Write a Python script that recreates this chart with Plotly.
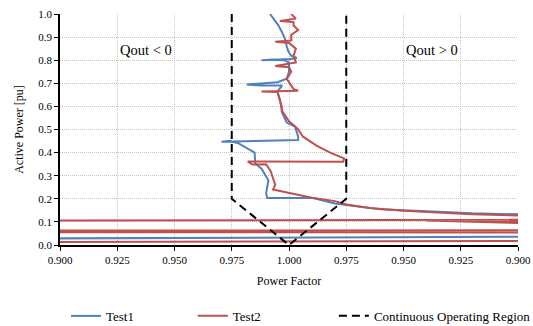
import plotly.graph_objects as go

# x values: signed power-factor offset (negative = Qout<0 side, positive = Qout>0 side)
test1_x = [-0.0083, -0.0065, -0.0047, -0.003, -0.0018, -0.001, -0.0003, 0.001, 0.0034, 0.0005,
           -0.012, -0.008, -0.002, 0.0, 0.0, -0.001, -0.005, -0.0185, -0.012, -0.003,
           -0.005, -0.0047, -0.0032, -0.0032, -0.001, 0.0026, 0.004, 0.004, -0.0295, -0.026,
           -0.022, -0.015, -0.0148, -0.012, -0.009, -0.010, -0.0095, 0.0105, 0.02, 0.040,
           0.08, 0.13, 0.15, 0.15, -0.15]
test1_p = [1.0, 0.975, 0.952, 0.92, 0.894, 0.86, 0.837, 0.82, 0.81, 0.805,
           0.80, 0.802, 0.80, 0.79, 0.75, 0.72, 0.705, 0.695, 0.69, 0.69,
           0.665, 0.65, 0.60, 0.577, 0.53, 0.512, 0.47, 0.455, 0.447, 0.45,
           0.44, 0.40, 0.354, 0.33, 0.28, 0.224, 0.203, 0.203, 0.18, 0.155,
           0.137, 0.126, 0.122, 0.037, 0.027]

test2_x = [0.001, 0.003, -0.004, 0.002, 0.002, 0.004, 0.001, 0.001, -0.006, 0.0,
           0.003, 0.002, 0.003, -0.006, 0.0, 0.001, -0.001, 0.001, 0.002, 0.004,
           -0.012, -0.005, -0.004, -0.003, 0.0, 0.002, 0.004, 0.006, 0.012, 0.018,
           0.024, 0.0237, -0.018, -0.016, -0.010, -0.008, -0.007, -0.006, -0.007, 0.0,
           0.01, 0.02, 0.025, 0.035, 0.05, 0.08, 0.12, 0.15, 0.15, 0.06,
           0.10, 0.15, 0.15, -0.15, -0.15, 0.15, 0.15, -0.15, -0.15, 0.15]
test2_p = [1.0, 0.98, 0.97, 0.965, 0.95, 0.93, 0.91, 0.885, 0.88, 0.875,
           0.85, 0.82, 0.79, 0.775, 0.77, 0.75, 0.72, 0.69, 0.675, 0.668,
           0.665, 0.662, 0.63, 0.58, 0.535, 0.52, 0.50, 0.47, 0.43, 0.40,
           0.375, 0.36, 0.362, 0.348, 0.35, 0.32, 0.29, 0.26, 0.24, 0.225,
           0.205, 0.19, 0.175, 0.16, 0.148, 0.133, 0.12, 0.113, 0.10, 0.106,
           0.095, 0.09, 0.11, 0.105, 0.062, 0.064, 0.054, 0.056, 0.012, 0.018]

region_x = [-0.025, -0.025, 0.0, 0.025, 0.025]
region_p = [1.0, 0.2, 0.0, 0.2, 1.0]

x_tick_vals = [-0.1, -0.075, -0.05, -0.025, 0.0, 0.025, 0.05, 0.075, 0.1]
x_tick_text = ["0.900", "0.925", "0.950", "0.975", "1.000", "0.975", "0.950", "0.925", "0.900"]
y_tick_vals = [0.0, 0.1, 0.2, 0.3, 0.4, 0.5, 0.6, 0.7, 0.8, 0.9, 1.0]
y_tick_text = ["0.0", "0.1", "0.2", "0.3", "0.4", "0.5", "0.6", "0.7", "0.8", "0.9", "1.0"]

FONT = "Times New Roman, Liberation Serif, serif"

fig = go.Figure()
fig.add_trace(go.Scatter(x=test1_x, y=test1_p, mode="lines", name="Test1",
                         line=dict(color="#4F81BD", width=2), legend="legend"))
fig.add_trace(go.Scatter(x=test2_x, y=test2_p, mode="lines", name="Test2",
                         line=dict(color="#C0504D", width=2), legend="legend2"))
fig.add_trace(go.Scatter(x=region_x, y=region_p, mode="lines", name="Continuous Operating Region",
                         line=dict(color="black", width=2, dash="8px,5px"), legend="legend3"))

fig.add_annotation(x=-0.0624, y=0.845, text="Qout < 0", showarrow=False,
                   font=dict(family=FONT, size=14.5, color="black"))
fig.add_annotation(x=0.0625, y=0.845, text="Qout > 0", showarrow=False,
                   font=dict(family=FONT, size=14.5, color="black"))

legend_common = dict(orientation="h", yanchor="middle", y=-0.307, xanchor="left",
                     font=dict(family=FONT, size=13, color="black"),
                     bgcolor="rgba(0,0,0,0)")

fig.update_layout(
    width=533, height=326,
    margin=dict(l=60, r=15, t=14, b=81, autoexpand=False),
    paper_bgcolor="white", plot_bgcolor="white",
    showlegend=True,
    font=dict(family=FONT, size=11, color="black"),
    legend=dict(x=0.013, **legend_common),
    legend2=dict(x=0.290, **legend_common),
    legend3=dict(x=0.598, **legend_common),
    xaxis=dict(range=[-0.1, 0.1], tickvals=x_tick_vals, ticktext=x_tick_text,
               showgrid=True, gridcolor="#c4c4c4", griddash="1px,1px", gridwidth=1,
               zeroline=False, showline=True, linecolor="black", linewidth=1.5,
               ticks="outside", ticklen=4, tickcolor="black", automargin=False,
               title=dict(text="Power Factor", font=dict(family=FONT, size=12), standoff=12),
               tickfont=dict(family=FONT, size=11)),
    yaxis=dict(range=[0, 1.0], tickvals=y_tick_vals, ticktext=y_tick_text,
               showgrid=True, gridcolor="#c4c4c4", griddash="1px,1px", gridwidth=1,
               zeroline=False, showline=True, linecolor="black", linewidth=1.5,
               ticks="outside", ticklen=4, tickcolor="black", automargin=False,
               title=dict(text="Active Power [pu]", font=dict(family=FONT, size=12), standoff=12),
               tickfont=dict(family=FONT, size=11)),
)

fig.write_html("out.html", config={"displayModeBar": False},
               post_script="document.body.style.margin='0';document.body.style.overflow='hidden';")
